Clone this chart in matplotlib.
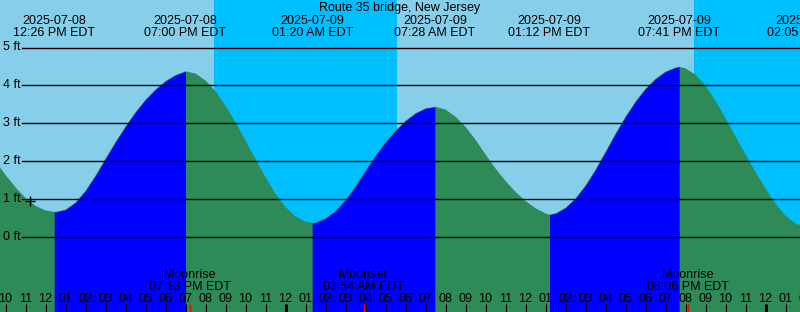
import matplotlib
matplotlib.use("Agg")
import matplotlib.pyplot as plt
import matplotlib.transforms as mtransforms
import pandas as pd

W, H = 800, 312
T0 = pd.Timestamp("2025-07-08 12:00")

TITLE = "Route 35 bridge, New Jersey"

# high / low tides (EDT), heights in ft
extreme_times = ["2025-07-08 12:26", "2025-07-08 19:00", "2025-07-09 01:20",
                 "2025-07-09 07:28", "2025-07-09 13:12", "2025-07-09 19:41",
                 "2025-07-10 02:05"]
extreme_heights = [0.65, 4.37, 0.36, 3.43, 0.58, 4.49, 0.25]
extreme_kinds = ["low", "high", "low", "high", "low", "high", "low"]

# water level every 30 min, starting 2025-07-08 09:30
level_start = "2025-07-08 09:30"
level_heights = [
    2.00, 1.63, 1.30, 1.02, 0.81, 0.69, 0.65, 0.71, 0.90, 1.21,
    1.61, 2.06, 2.50, 2.91, 3.29, 3.62, 3.89, 4.11, 4.27, 4.36,
    4.31, 4.13, 3.84, 3.46, 3.02, 2.54, 2.05, 1.57, 1.13, 0.78,
    0.53, 0.39, 0.37, 0.48, 0.68, 0.97, 1.33, 1.74, 2.14, 2.50,
    2.80, 3.06, 3.26, 3.39, 3.43, 3.36, 3.17, 2.90, 2.56, 2.17,
    1.80, 1.47, 1.18, 0.94, 0.75, 0.61, 0.61, 0.76, 1.01, 1.35,
    1.77, 2.24, 2.72, 3.17, 3.57, 3.91, 4.17, 4.36, 4.47, 4.45,
    4.28, 3.99, 3.59, 3.13, 2.65, 2.17, 1.71, 1.27, 0.87, 0.55,
    0.34, 0.26,
]

# night sky: sunset -> sunrise
night_starts = ["2025-07-08 20:25", "2025-07-09 20:25"]
night_ends = ["2025-07-09 05:35", "2025-07-10 06:00"]

moon_labels = ["Moonrise", "Moonset", "Moonrise"]
moon_times = ["2025-07-08 19:13", "2025-07-09 03:54", "2025-07-09 20:06"]

now_time = "2025-07-08 11:13"
now_height = 0.95

grid_feet = [0, 1, 2, 3, 4, 5]

DAY = "#87CEEB"
NIGHT = "#00BFFF"
FLOOD = "#0000FF"
EBB = "#2E8B57"
FONT = "Liberation Sans"
FS = 9


def hrs(t):
    return (pd.Timestamp(t) - T0) / pd.Timedelta(hours=1)


def fy(ypix):
    # pixel row from the top -> figure fraction
    return 1 - ypix / H


# pixel geometry of the xtide-style frame
X_NOON = 45.5            # pixel of 12:00 on 2025-07-08
PX_PER_HR = 20.0
Y_ZERO = 236.5           # pixel of 0 ft
PX_PER_FT = 37.8

fig = plt.figure(figsize=(W / 100, H / 100), dpi=100)
ax = fig.add_axes([0, 0, 1, 1])
ax.set_xlim(-X_NOON / PX_PER_HR, (W - X_NOON) / PX_PER_HR)
ax.set_ylim((Y_ZERO - H) / PX_PER_FT, Y_ZERO / PX_PER_FT)
ax.axis("off")
ax.add_patch(plt.Rectangle((0, 0), 1, 1, transform=ax.transAxes,
                           color=DAY, zorder=0))
trans = mtransforms.blended_transform_factory(ax.transData, fig.transFigure)

# ── sky ────────────────────────────────────────────────────────────────
for a, b in zip(night_starts, night_ends):
    ax.axvspan(hrs(a), hrs(b), color=NIGHT, lw=0, zorder=0.5)

# ── water ──────────────────────────────────────────────────────────────
lvl = pd.DataFrame({
    "t": [hrs(t) for t in pd.date_range(level_start, periods=len(level_heights),
                                         freq="30min")],
    "h": level_heights})
ext = pd.DataFrame({"t": [hrs(t) for t in extreme_times], "h": extreme_heights})
curve = pd.concat([lvl, ext]).sort_values("t").drop_duplicates("t")
bottom = ax.get_ylim()[0] - 1

ax.fill_between(curve["t"], curve["h"], bottom, color=EBB, lw=0, zorder=1)
bounds = [curve["t"].min()] + list(ext["t"])
for i, kind in enumerate(extreme_kinds):
    if kind != "high":
        continue
    seg = curve[(curve["t"] >= bounds[i]) & (curve["t"] <= bounds[i + 1])]
    ax.fill_between(seg["t"], seg["h"], bottom, color=FLOOD, lw=0, zorder=1.1)

# ── depth grid ─────────────────────────────────────────────────────────
for ft in grid_feet:
    ax.axhline(ft, xmin=22 / W, xmax=1, color="black", lw=1.0, zorder=2)
    ax.text(3 / W, ft, f"{ft} ft", transform=ax.get_yaxis_transform(),
            ha="left", va="center", fontsize=FS, family=FONT, zorder=3)

# ── labels ─────────────────────────────────────────────────────────────
fig.text(0.5, fy(11.5), TITLE, ha="center", va="baseline",
         fontsize=FS, family=FONT)

for t in extreme_times:
    ts = pd.Timestamp(t)
    ax.text(hrs(t), fy(24), ts.strftime("%Y-%m-%d"), transform=trans,
            ha="center", va="baseline", fontsize=FS, family=FONT, zorder=3)
    ax.text(hrs(t), fy(36), ts.strftime("%I:%M %p EDT"), transform=trans,
            ha="center", va="baseline", fontsize=FS, family=FONT, zorder=3)

for lab, t in zip(moon_labels, moon_times):
    ts = pd.Timestamp(t)
    ax.text(hrs(t), fy(278.5), lab, transform=trans, ha="center",
            va="baseline", fontsize=FS, family=FONT, zorder=3)
    ax.text(hrs(t), fy(290), ts.strftime("%I:%M %p EDT"), transform=trans,
            ha="center", va="baseline", fontsize=FS, family=FONT, zorder=3)
    ax.vlines(hrs(t), fy(H), fy(304), transform=trans, color="red",
              lw=1.0, zorder=3)

# hour ticks along the bottom
for ts in pd.date_range("2025-07-08 10:00", "2025-07-10 02:00", freq="1h"):
    x = hrs(ts)
    ax.text(x, fy(302.5), ts.strftime("%I"), transform=trans, ha="center",
            va="baseline", fontsize=FS, family=FONT, zorder=3)
    ax.vlines(x, fy(H), fy(304), transform=trans, color="black",
              lw=2.2 if ts.hour == 0 else 0.8, zorder=3)

# current time marker
ax.plot(hrs(now_time), now_height, marker="+", color="black", ms=6.5,
        mew=1.0, zorder=3)

fig.savefig("out.png", dpi=100)
